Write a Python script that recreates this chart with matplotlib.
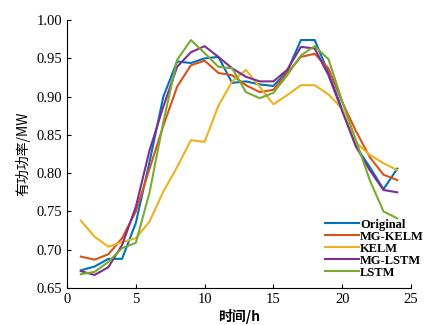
import numpy as np
import matplotlib
matplotlib.use("Agg")
import matplotlib.pyplot as plt

plt.rcParams['font.family'] = ['Liberation Serif', 'Noto Sans CJK SC']

hours = list(range(1, 25))

original = [0.673, 0.678, 0.688, 0.688, 0.735, 0.815, 0.900, 0.946, 0.944, 0.950, 0.952, 0.918,
            0.920, 0.916, 0.914, 0.933, 0.974, 0.974, 0.931, 0.883, 0.835, 0.808, 0.779, 0.806]
mg_kelm = [0.691, 0.687, 0.694, 0.715, 0.750, 0.806, 0.862, 0.913, 0.941, 0.947, 0.931, 0.928,
           0.915, 0.906, 0.909, 0.931, 0.952, 0.956, 0.937, 0.893, 0.855, 0.821, 0.798, 0.791]
kelm = [0.738, 0.717, 0.704, 0.710, 0.715, 0.737, 0.776, 0.808, 0.843, 0.841, 0.888, 0.920,
        0.935, 0.913, 0.890, 0.902, 0.915, 0.915, 0.903, 0.884, 0.840, 0.824, 0.813, 0.804]
mg_lstm = [0.672, 0.667, 0.677, 0.706, 0.756, 0.830, 0.887, 0.939, 0.958, 0.966, 0.952, 0.937,
           0.926, 0.920, 0.920, 0.935, 0.965, 0.963, 0.928, 0.881, 0.835, 0.804, 0.778, 0.775]
lstm = [0.668, 0.671, 0.684, 0.702, 0.709, 0.775, 0.867, 0.948, 0.974, 0.957, 0.939, 0.937,
        0.906, 0.898, 0.905, 0.928, 0.954, 0.966, 0.949, 0.894, 0.843, 0.791, 0.750, 0.741]

series = [
    ("Original", original, "#0072BD"),
    ("MG-KELM", mg_kelm, "#D95319"),
    ("KELM", kelm, "#EDB120"),
    ("MG-LSTM", mg_lstm, "#7E2F8E"),
    ("LSTM", lstm, "#77AC30"),
]

fig = plt.figure(figsize=(4.41, 3.25), dpi=100)
ax = fig.add_axes([0.152, 0.114, 0.780, 0.824])

for name, vals, color in series:
    ax.plot(hours, vals, color=color, lw=1.5, label=name)

ax.set_xlim(0, 25)
ax.set_ylim(0.65, 1.00)
ax.set_xticks([0, 5, 10, 15, 20, 25])
ax.set_yticks(np.arange(0.65, 1.001, 0.05))
ax.yaxis.set_major_formatter(matplotlib.ticker.FormatStrFormatter('%.2f'))
ax.tick_params(direction='in', labelsize=10.5, length=3, width=0.8)
ax.spines['top'].set_visible(False)
ax.spines['right'].set_visible(False)

ax.set_xlabel("时间/h", fontsize=10, family=['Noto Sans CJK SC'], fontweight='bold', labelpad=2)
ax.set_ylabel("有功功率/MW", fontsize=10, family=['Noto Sans CJK SC'], labelpad=4)

ax.legend(loc='lower left', bbox_to_anchor=(0.75, 0.035), frameon=False,
          prop={'family': 'Liberation Serif', 'weight': 'bold', 'size': 9},
          handlelength=2.7, handletextpad=0.1, labelspacing=0.0, borderpad=0,
          borderaxespad=0)

fig.savefig("out.png", dpi=100)
